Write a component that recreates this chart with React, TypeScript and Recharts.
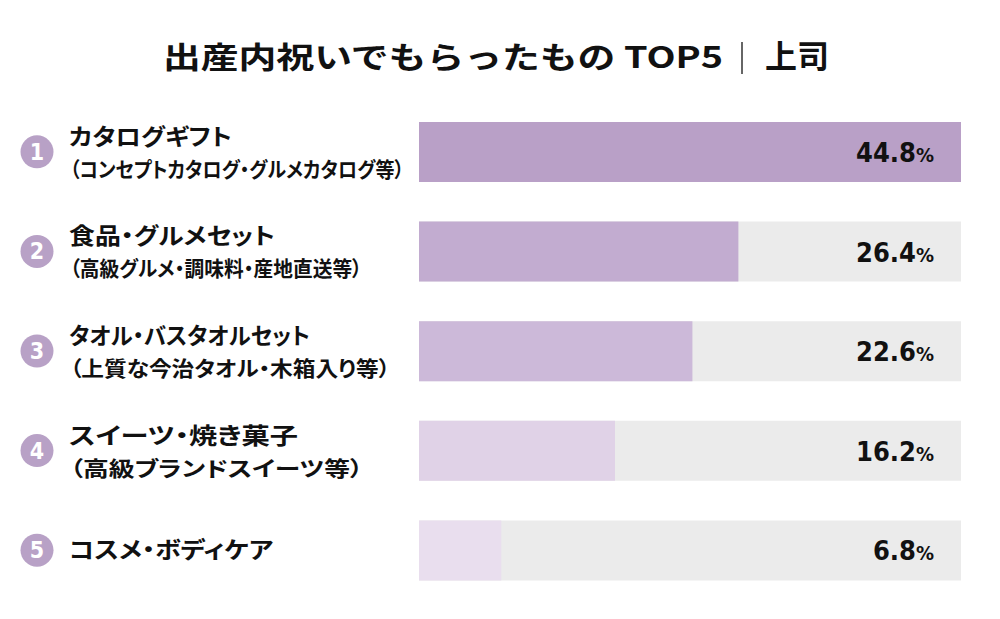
import React from "react";
import { BarChart, Bar, XAxis, YAxis, Cell, LabelList } from "recharts";

const ranks = ["1", "2", "3", "4", "5"];
const mainLabels = [
  "カタログギフト",
  "食品・グルメセット",
  "タオル・バスタオルセット",
  "スイーツ・焼き菓子",
  "コスメ・ボディケア",
];
const subLabels = [
  "（コンセプトカタログ・グルメカタログ等）",
  "（高級グルメ・調味料・産地直送等）",
  "（上質な今治タオル・木箱入り等）",
  "（高級ブランドスイーツ等）",
  "",
];
const values = [44.8, 26.4, 22.6, 16.2, 6.8];

const barColors = ["#b9a0c7", "#c2acd0", "#ccb9d9", "#e0d2e7", "#e9deee"];
const mainWidths = [163, 206, 241, 229, 204];
const subWidths = [334, 292, 320, 293, 0];

const W = 1000;
const H = 619;
const M = { top: 102, right: 39, bottom: 19, left: 0 };
const JP = "'Noto Sans CJK JP', 'Noto Sans', sans-serif";
const NUM = "'DejaVu Sans Condensed', 'DejaVu Sans', sans-serif";
const palt = { fontFeatureSettings: "'palt'" };

const data = ranks.map((r, i) => ({ rank: r, value: values[i] }));

const Tick = (props: any) => {
  const { y, payload, index } = props;
  const i = index ?? ranks.indexOf(payload.value);
  const sub = subLabels[i];
  return (
    <g>
      <circle cx={37} cy={y} r={16.5} fill="#b8a1c6" />
      <text
        x={37}
        y={y + 8}
        textAnchor="middle"
        fill="#fff"
        fontFamily={NUM}
        fontStretch="condensed"
        fontWeight={700}
        fontSize={23}
      >
        {payload.value}
      </text>
      <text
        x={69}
        y={sub ? y - 7 : y + 8}
        fill="#111"
        fontFamily={JP}
        fontWeight={700}
        fontSize={23}
        style={palt}
        textLength={mainWidths[i]}
        lengthAdjust="spacingAndGlyphs"
      >
        {mainLabels[i]}
      </text>
      {sub ? (
        <text
          x={70}
          y={y + 25}
          fill="#111"
          fontFamily={JP}
          fontWeight={700}
          fontSize={21}
          style={palt}
          textLength={subWidths[i]}
          lengthAdjust="spacingAndGlyphs"
        >
          {sub}
        </text>
      ) : null}
    </g>
  );
};

const ValueLabel = (props: any) => {
  const { y, height, value } = props;
  const xr = W - M.right - 27;
  return (
    <text
      x={xr}
      y={y + height / 2 + 10}
      textAnchor="end"
      fill="#111"
      fontFamily={NUM}
      fontStretch="condensed"
      fontWeight={700}
      fontSize={27}
    >
      {value.toFixed(1)}
      <tspan fontSize={20}>%</tspan>
    </text>
  );
};

export default function App() {
  return (
    <div style={{ position: "absolute", left: 0, top: 0, width: W, height: H, background: "#fff" }}>
      <svg width={W} height={90} style={{ position: "absolute", left: 0, top: 0 }}>
        <text
          x={163}
          y={68}
          fill="#111"
          fontFamily={JP}
          fontWeight={700}
          fontSize={30}
          textLength={560}
          lengthAdjust="spacingAndGlyphs"
        >
          出産内祝いでもらったもの TOP5
        </text>
        <line x1={742} x2={742} y1={42} y2={74} stroke="#333" strokeWidth={1.5} />
        <text x={765} y={68} fill="#111" fontFamily={JP} fontWeight={700} fontSize={32}>
          上司
        </text>
      </svg>
      <div style={{ position: "absolute", left: 0, top: 0 }}>
        <BarChart width={W} height={H} data={data} layout="vertical" margin={M} barSize={60}>
          <XAxis type="number" domain={[0, 44.8]} hide />
          <YAxis
            type="category"
            dataKey="rank"
            width={419}
            axisLine={false}
            tickLine={false}
            tick={<Tick />}
            interval={0}
          />
          <Bar dataKey="value" background={{ fill: "#ebebeb" }} isAnimationActive={false}>
            {data.map((d, i) => (
              <Cell key={d.rank} fill={barColors[i]} />
            ))}
            <LabelList dataKey="value" content={<ValueLabel />} />
          </Bar>
        </BarChart>
      </div>
    </div>
  );
}
